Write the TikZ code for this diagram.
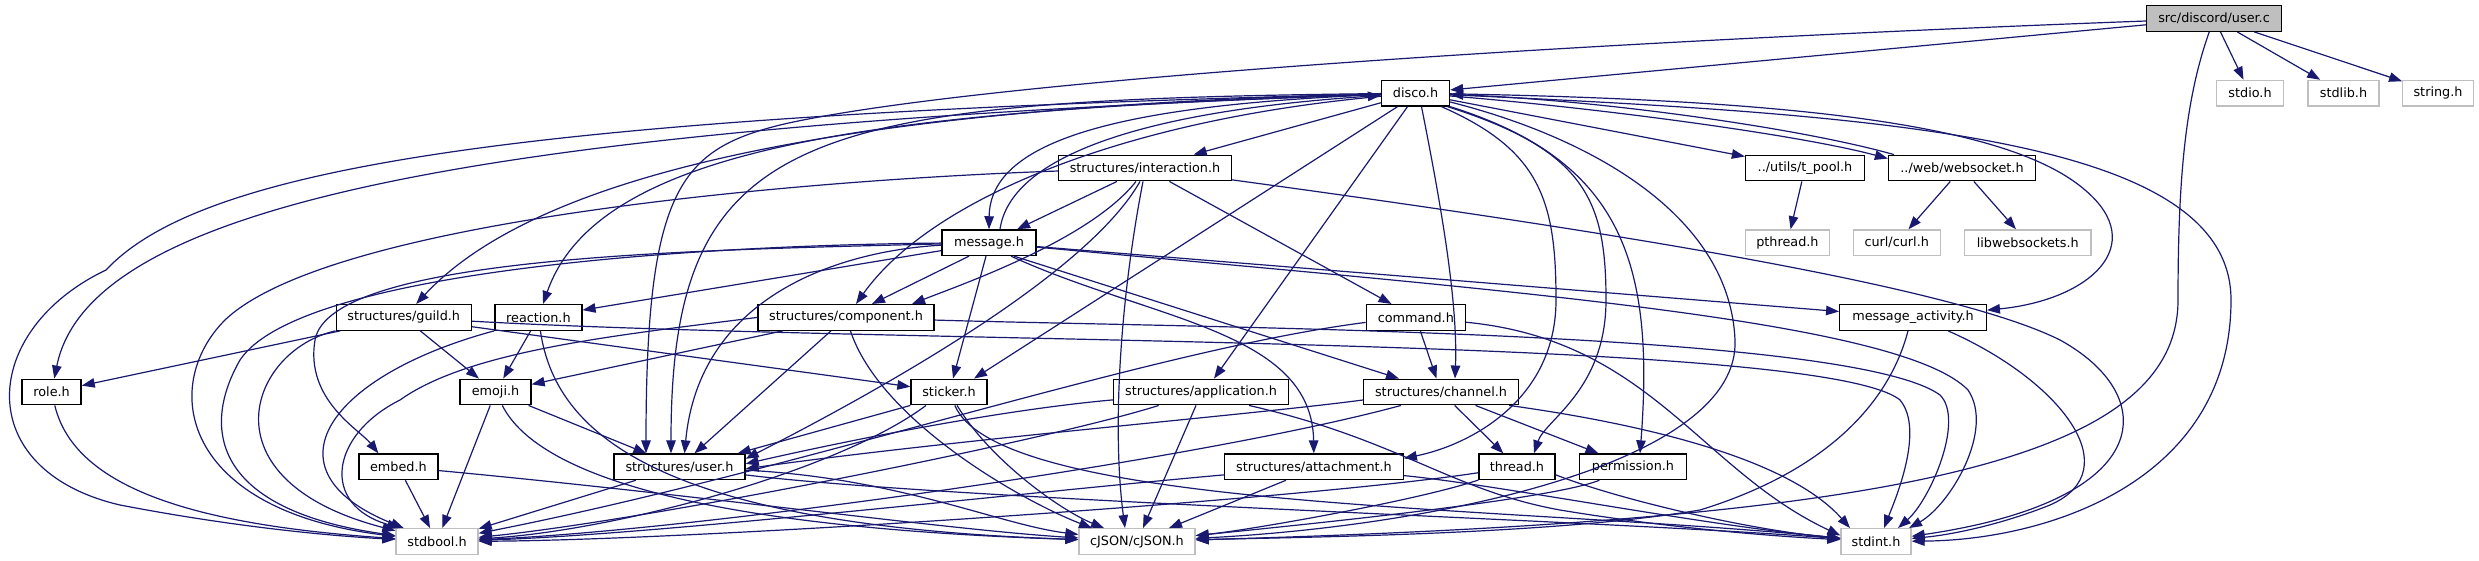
\documentclass[tikz,border=0pt]{standalone}
\usepackage{fontspec}
\setmainfont{DejaVu Sans}
\usetikzlibrary{arrows.meta}
\definecolor{edgeblue}{RGB}{25,25,112}
\definecolor{greyseventyfive}{RGB}{191,191,191}
\tikzset{
  hdr/.style={draw=black, line width=1.3pt, fill=white, minimum height=25.6pt, inner sep=0pt, font=\fontsize{12.8}{15}\selectfont, text=black},
  syshdr/.style={hdr, draw=greyseventyfive},
  roothdr/.style={hdr, fill=greyseventyfive},
  dep/.style={draw=edgeblue, line width=1.2pt, -{Triangle[length=13pt,width=9.5pt]}},
}
\begin{document}
\begin{tikzpicture}[x=1pt,y=-1pt]
\useasboundingbox[fill=white] (0,0) rectangle (2479,560);
% row 1
\node[roothdr, minimum width=135pt] (uc) at (2214,18.5) {src/discord/user.c};
% row 2
\node[hdr, minimum width=68pt] (disco) at (1415.5,93.2) {disco.h};
\node[syshdr, minimum width=67pt] (stdio) at (2250,93.2) {stdio.h};
\node[syshdr, minimum width=71pt] (stdlib) at (2343.5,93.2) {stdlib.h};
\node[syshdr, minimum width=70.5pt] (string) at (2438,93.2) {string.h};
% row 3
\node[hdr, minimum width=172.5pt] (inter) at (1145,168) {structures/interaction.h};
\node[hdr, minimum width=119pt] (tpool) at (1805,168) {../utils/t\_pool.h};
\node[hdr, minimum width=147pt] (ws) at (1962,168) {../web/websocket.h};
% row 4
\node[hdr, minimum width=94pt] (msg) at (989,242.7) {message.h};
\node[syshdr, minimum width=84pt] (pthread) at (1787.4,242.7) {pthread.h};
\node[syshdr, minimum width=87pt] (curl) at (1896.7,242.7) {curl/curl.h};
\node[syshdr, minimum width=126.5pt] (lws) at (2027.8,242.7) {libwebsockets.h};
% row 5
\node[hdr, minimum width=135pt] (guild) at (403.7,317.4) {structures/guild.h};
\node[hdr, minimum width=87pt] (react) at (538.4,317.4) {reaction.h};
\node[hdr, minimum width=176pt] (comp) at (846,317.4) {structures/component.h};
\node[hdr, minimum width=99pt] (cmd) at (1415.8,317.4) {command.h};
\node[hdr, minimum width=146.6pt] (mact) at (1913,317.4) {message\_activity.h};
% row 6
\node[hdr, minimum width=59pt] (role) at (51.6,392) {role.h};
\node[hdr, minimum width=71pt] (emoji) at (495.5,392) {emoji.h};
\node[hdr, minimum width=76pt] (sticker) at (949,392) {sticker.h};
\node[hdr, minimum width=175pt] (app) at (1201,392) {structures/application.h};
\node[hdr, minimum width=155pt] (chan) at (1441,392) {structures/channel.h};
% row 7
\node[hdr, minimum width=79pt] (embed) at (398.4,466.8) {embed.h};
\node[hdr, minimum width=131pt] (userh) at (679.5,466.8) {structures/user.h};
\node[hdr, minimum width=178.4pt] (attach) at (1314,466.8) {structures/attachment.h};
\node[hdr, minimum width=76pt] (thread) at (1517,466.8) {thread.h};
\node[hdr, minimum width=107pt] (perm) at (1633,466.8) {permission.h};
% row 8
\node[syshdr, minimum width=82pt] (stdbool) at (437,541.5) {stdbool.h};
\node[syshdr, minimum width=116pt] (cjson) at (1137,541.5) {cJSON/cJSON.h};
\node[syshdr, minimum width=70pt] (stdint) at (1876,541.5) {stdint.h};

% ---- user.c
\draw[dep] (uc) -- (disco);
\draw[dep] (uc) -- (stdio);
\draw[dep] (uc) -- (stdlib);
\draw[dep] (uc) -- (string);
\draw[dep] (uc) .. controls (1500,45) and (950,85) .. (780,125) .. controls (680,150) and (646,190) .. ([xshift=-33.5pt]userh.north);
\draw[dep] (uc) .. controls (2185,100) and (2178,180) .. (2178,300) .. controls (2178,460) and (1900,520) .. (cjson);

% ---- disco.h
\draw[dep] (disco) -- (inter);
\draw[dep] (disco) .. controls (1120,105) and (990,140) .. (msg.north);
\draw[dep] ([xshift=11pt]msg.north) .. controls (1010,160) and (1130,112) .. (disco);
\draw[dep] (disco) .. controls (900,105) and (550,160) .. (guild);
\draw[dep] (disco) .. controls (900,110) and (600,140) .. (react);
\draw[dep] (disco) .. controls (500,115) and (200,170) .. (106,270) .. controls (-20,330) and (-30,470) .. (120,505) .. controls (250,530) and (350,537) .. (stdbool);
\draw[dep] (disco) .. controls (500,125) and (90,200) .. (role);
\draw[dep] (disco) .. controls (800,100) and (671,130) .. ([xshift=-8.5pt]userh.north);
\draw[dep] (disco) .. controls (1120,120) and (930,200) .. ([xshift=10pt]comp.north);
\draw[dep] ([xshift=-18pt]disco.south) -- ([xshift=25pt]sticker.north);
\draw[dep] ([xshift=-8pt]disco.south) -- ([xshift=13pt]app.north);
\draw[dep] ([xshift=6pt]disco.south) .. controls (1440,200) and (1458,300) .. ([xshift=14pt]chan.north);
\draw[dep] ([xshift=26pt]disco.south) .. controls (1540,150) and (1556,200) .. (1556,300) .. controls (1556,400) and (1470,445) .. ([yshift=-5pt]attach.north east);
\draw[dep] ([xshift=32pt]disco.south) .. controls (1585,150) and (1606,200) .. (1606,300) .. controls (1606,390) and (1545,420) .. ([xshift=17pt]thread.north);
\draw[dep] (disco.south east) .. controls (1620,160) and (1655,260) .. ([xshift=7pt]perm.north);
\draw[dep] (disco) -- (tpool);
\draw[dep] (disco) .. controls (1600,108) and (1800,135) .. ([yshift=-4pt]ws.north west);
\draw[dep] ([xshift=6pt]ws.north west) .. controls (1800,128) and (1600,100) .. (disco);
\draw[dep] (disco) .. controls (1800,100) and (2010,125) .. (2085,190) .. controls (2150,245) and (2090,300) .. (mact);
\draw[dep] (disco) .. controls (1900,115) and (2231,140) .. (2231,300) .. controls (2231,480) and (2050,540) .. (stdint);
\draw[dep] (disco) .. controls (1600,140) and (1730,220) .. (1735,340) .. controls (1740,460) and (1450,525) .. (cjson);

% ---- interaction
\draw[dep] (inter) -- (msg);
\draw[dep] ([xshift=-9pt]inter.south) .. controls (1090,240) and (960,285) .. ([xshift=66pt]comp.north);
\draw[dep] ([xshift=-5pt]inter.south) .. controls (1090,270) and (900,380) .. ([yshift=8pt]userh.east);
\draw[dep] ([xshift=-2pt]inter.south) .. controls (1120,300) and (1112,430) .. ([xshift=-12pt]cjson.north);
\draw[dep] (inter) -- (cmd);
\draw[dep] (inter) .. controls (1600,230) and (1950,285) .. (2060,340) .. controls (2160,395) and (2160,500) .. (stdint);
\draw[dep] (inter) .. controls (800,180) and (330,220) .. (225,320) .. controls (160,385) and (180,510) .. (stdbool);

% ---- message
\draw[dep] (msg) -- (react);
\draw[dep] (msg) .. controls (700,250) and (330,255) .. (315,340) .. controls (305,400) and (360,430) .. ([xshift=-20pt]embed.north);
\draw[dep] (msg) .. controls (700,245) and (300,270) .. (240,360) .. controls (200,430) and (215,510) .. (stdbool);
\draw[dep] ([xshift=-20pt]msg.south) -- ([xshift=26pt]comp.north);
\draw[dep] ([xshift=-3pt]msg.south) -- ([xshift=4pt]sticker.north);
\draw[dep] ([xshift=22pt]msg.south) .. controls (1150,320) and (1312,330) .. (attach);
\draw[dep] ([xshift=25pt]msg.south) -- ([xshift=-42pt]chan.north);
\draw[dep] (msg) -- (mact);
\draw[dep] (msg) .. controls (1500,290) and (1900,320) .. (1968,390) .. controls (1995,430) and (1950,505) .. ([xshift=33pt]stdint.north);
\draw[dep] (msg) .. controls (850,250) and (700,290) .. ([xshift=5pt]userh.north);

% ---- guild
\draw[dep] (guild) -- (role);
\draw[dep] (guild) -- (emoji);
\draw[dep] (guild) -- (sticker);
\draw[dep] (guild) .. controls (900,345) and (1820,335) .. (1900,400) .. controls (1925,430) and (1895,500) .. ([xshift=8pt]stdint.north);
\draw[dep] (guild.south west) .. controls (250,350) and (200,480) .. (stdbool);

% ---- reaction
\draw[dep] (react) -- (emoji);
\draw[dep] (react.south west) .. controls (330,375) and (260,470) .. (stdbool);
\draw[dep] (react) .. controls (555,430) and (650,525) .. (cjson);

% ---- role
\draw[dep] (role) .. controls (75,490) and (200,525) .. (stdbool);

% ---- emoji
\draw[dep] (emoji) -- (stdbool);
\draw[dep] (emoji) -- (userh);
\draw[dep] (emoji) .. controls (540,480) and (720,528) .. (cjson);

% ---- embed
\draw[dep] (embed) -- (stdbool);
\draw[dep] (embed) .. controls (700,495) and (950,530) .. (cjson);

% ---- structures/user.h
\draw[dep] (userh) -- (stdbool);
\draw[dep] (userh) .. controls (900,478) and (1000,525) .. (cjson);
\draw[dep] (userh) .. controls (950,500) and (1600,520) .. (stdint);

% ---- component
\draw[dep] (comp) -- (emoji);
\draw[dep] (comp) -- (userh);
\draw[dep] (comp.west) .. controls (620,335) and (470,350) .. (400,400) .. controls (330,435) and (320,505) .. ([xshift=5pt]stdbool.north west);
\draw[dep] (comp) .. controls (880,420) and (1020,500) .. ([xshift=-45pt]cjson.north);
\draw[dep] (comp) .. controls (1200,328) and (1850,330) .. (1940,395) .. controls (1965,420) and (1930,500) .. ([xshift=22pt]stdint.north);

% ---- sticker
\draw[dep] (sticker.south west) -- ([xshift=-8pt]userh.north east);
\draw[dep] ([xshift=-23pt]sticker.south) .. controls (840,470) and (620,530) .. (stdbool);
\draw[dep] (sticker) .. controls (990,460) and (1060,510) .. ([xshift=-33pt]cjson.north);
\draw[dep] (sticker) .. controls (1000,510) and (1500,505) .. (stdint);

% ---- application
\draw[dep] (app) .. controls (1000,410) and (850,440) .. ([yshift=3pt]userh.east);
\draw[dep] (app) .. controls (1050,440) and (650,520) .. (stdbool);
\draw[dep] ([xshift=-5pt]app.south) -- ([xshift=6pt]cjson.north);
\draw[dep] ([xshift=48pt]app.south) .. controls (1400,440) and (1450,490) .. (1560,510) .. controls (1650,525) and (1750,535) .. (stdint);

% ---- channel
\draw[dep] ([yshift=-8pt]chan.west) .. controls (1250,415) and (950,440) .. ([yshift=-2pt]userh.east);
\draw[dep] ([xshift=-40pt]chan.south) .. controls (1200,460) and (700,530) .. (stdbool);
\draw[dep] (chan) -- (thread);
\draw[dep] (chan) -- (perm);
\draw[dep] ([xshift=-10pt]chan.south east) .. controls (1650,425) and (1790,460) .. ([xshift=-26pt]stdint.north);

% ---- attachment
\draw[dep] (attach) .. controls (1000,495) and (650,535) .. (stdbool);
\draw[dep] ([xshift=-28pt]attach.south) -- ([xshift=32pt]cjson.north);
\draw[dep] (attach) .. controls (1500,485) and (1700,525) .. (stdint);

% ---- thread
\draw[dep] (thread) .. controls (1300,500) and (700,540) .. (stdbool);
\draw[dep] (thread) .. controls (1420,500) and (1250,530) .. (cjson);
\draw[dep] ([yshift=-8pt]thread.east) .. controls (1620,500) and (1750,530) .. (stdint);

% ---- permission
\draw[dep] (perm) .. controls (1550,500) and (1300,525) .. (cjson);

% ---- command
\draw[dep] (cmd) -- (chan);
\draw[dep] ([yshift=-5pt]cmd.west) .. controls (1150,350) and (800,470) .. (stdbool);
\draw[dep] (cmd) .. controls (1650,340) and (1700,470) .. ([yshift=6pt]stdint.west);

% ---- message_activity
\draw[dep] ([xshift=-5pt]mact.south) .. controls (1890,400) and (1830,470) .. (1700,510) .. controls (1550,535) and (1300,537) .. (cjson);
\draw[dep] ([xshift=35pt]mact.south) .. controls (2060,380) and (2130,470) .. (2050,505) .. controls (2000,525) and (1950,535) .. (stdint);

% ---- t_pool, websocket
\draw[dep] (tpool) -- (pthread);
\draw[dep] (ws) -- (curl);
\draw[dep] (ws) -- (lws);
\end{tikzpicture}
\end{document}
